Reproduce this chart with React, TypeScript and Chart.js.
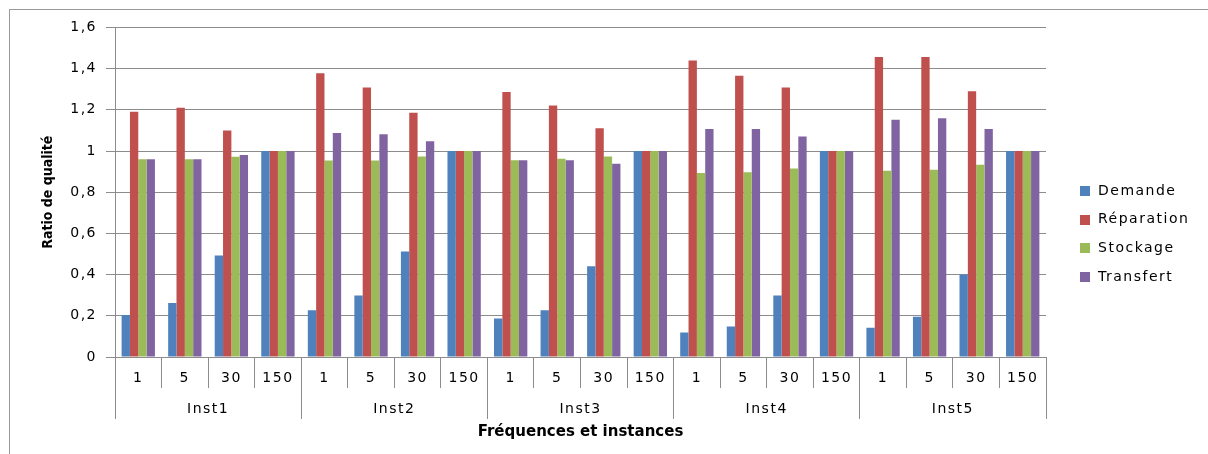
import React, { useEffect, useRef } from "react";
import { Chart, registerables } from "chart.js";

Chart.register(...registerables);

const categories = [
  "1", "5", "30", "150",
  "1", "5", "30", "150",
  "1", "5", "30", "150",
  "1", "5", "30", "150",
  "1", "5", "30", "150",
];
const groups = ["Inst1", "Inst2", "Inst3", "Inst4", "Inst5"];

const demande = [
  0.204, 0.262, 0.493, 1,
  0.227, 0.298, 0.512, 1,
  0.187, 0.227, 0.441, 1,
  0.119, 0.148, 0.298, 1,
  0.142, 0.195, 0.4, 1,
];
const reparation = [
  1.19, 1.21, 1.1, 1,
  1.377, 1.308, 1.186, 1,
  1.286, 1.221, 1.11, 1,
  1.439, 1.365, 1.308, 1,
  1.456, 1.456, 1.29, 1,
];
const stockage = [
  0.96, 0.96, 0.972, 1,
  0.954, 0.954, 0.973, 1,
  0.955, 0.962, 0.973, 1,
  0.893, 0.897, 0.915, 1,
  0.904, 0.909, 0.933, 1,
];
const transfert = [
  0.96, 0.96, 0.98, 1,
  1.087, 1.081, 1.047, 1,
  0.955, 0.955, 0.938, 1,
  1.107, 1.107, 1.07, 1,
  1.152, 1.159, 1.107, 1,
];

const seriesNames = ["Demande", "Réparation", "Stockage", "Transfert"];
const seriesColors = ["#4F81BD", "#C0504D", "#9BBB59", "#8064A2"];
const yTicks = [0, 0.2, 0.4, 0.6, 0.8, 1, 1.2, 1.4, 1.6];

const GRID = "#8c8c8c";
const TICK_FONT = { family: "'DejaVu Sans', sans-serif", size: 14 };
const SPACING = "1.5px";

const spacingPlugin = {
  id: "spacingPlugin",
  beforeDraw(chart: any) {
    chart.ctx.letterSpacing = "0px";
  },
  afterDatasetsDraw(chart: any) {
    chart.ctx.letterSpacing = SPACING;
  },
  afterDraw(chart: any) {
    const ctx = chart.ctx;
    const area = chart.chartArea;
    ctx.save();
    ctx.letterSpacing = SPACING;
    ctx.font = "14px 'DejaVu Sans', sans-serif";
    ctx.textBaseline = "middle";
    ctx.textAlign = "left";
    const n = chart.data.datasets.length;
    const cy = chart.height / 2 + 2;
    const step = 28.7;
    chart.data.datasets.forEach((ds: any, i: number) => {
      const y = cy + (i - (n - 1) / 2) * step;
      const bx = area.right + 34;
      ctx.fillStyle = ds.backgroundColor;
      ctx.fillRect(bx, Math.round(y - 5), 10, 10);
      ctx.fillStyle = "#000";
      ctx.fillText(ds.label, bx + 18, y);
    });
    ctx.restore();
    ctx.letterSpacing = "0px";
  },
};

export default function App() {
  const ref = useRef<HTMLCanvasElement | null>(null);

  useEffect(() => {
    if (!ref.current) return;
    const data = [demande, reparation, stockage, transfert];
    const chart = new Chart(ref.current, {
      type: "bar",
      data: {
        labels: categories,
        datasets: seriesNames.map((name, i) => ({
          label: name,
          data: data[i],
          backgroundColor: seriesColors[i],
          borderWidth: 0,
          categoryPercentage: 0.716,
          barPercentage: 1,
        })),
      },
      options: {
        animation: false,
        responsive: false,
        layout: { padding: { top: 16, left: 0, right: 162, bottom: 0 } },
        plugins: {
          legend: { display: false },
          tooltip: { enabled: false },
        },
        scales: {
          y: {
            min: 0,
            max: 1.6,
            afterBuildTicks: (scale: any) => {
              scale.ticks = yTicks.map((v) => ({ value: v }));
            },
            afterFit: (scale: any) => {
              scale.width = 105;
            },
            grid: {
              color: GRID,
              tickLength: 9,
              tickColor: GRID,
            },
            border: { color: GRID },
            ticks: {
              z: 1,
              padding: 9,
              color: "#000",
              font: TICK_FONT,
              callback: (v: any) => String(Math.round(Number(v) * 10) / 10).replace(".", ","),
            },
            title: {
              display: true,
              text: "Ratio de qualité",
              color: "#000",
              font: { family: "'DejaVu Sans Condensed', 'DejaVu Sans', sans-serif", size: 14, weight: "bold" },
              padding: { top: 30, bottom: 0 },
            },
          },
          x: {
            type: "category",
            position: "bottom",
            weight: 0,
            offset: true,
            afterFit: (scale: any) => {
              scale.height = 31;
            },
            grid: {
              offset: true,
              drawOnChartArea: false,
              color: GRID,
              tickColor: GRID,
              tickLength: 31,
            },
            border: { color: GRID },
            ticks: {
              z: 1,
              padding: -18.5,
              color: "#000",
              font: TICK_FONT,
              autoSkip: false,
              maxRotation: 0,
              minRotation: 0,
            },
          },
          x2: {
            type: "category",
            position: "bottom",
            weight: 1,
            labels: groups,
            offset: true,
            afterFit: (scale: any) => {
              scale.height = 66;
            },
            grid: {
              offset: true,
              drawOnChartArea: false,
              color: GRID,
              tickColor: GRID,
              tickLength: 31,
            },
            border: { display: false },
            ticks: {
              z: 1,
              padding: -18.5,
              color: "#000",
              font: TICK_FONT,
              autoSkip: false,
              maxRotation: 0,
              minRotation: 0,
            },
            title: {
              display: true,
              text: "Fréquences et instances",
              color: "#000",
              font: { family: "'DejaVu Sans', sans-serif", size: 15, weight: "bold" },
              padding: { top: 0, bottom: 13 },
            },
          },
        },
      } as any,
      plugins: [spacingPlugin],
    });
    return () => chart.destroy();
  }, []);

  return (
    <div
      style={{
        position: "fixed",
        left: 9,
        top: 9,
        width: 1199,
        height: 445,
        borderTop: "1px solid #9a9a9a",
        borderLeft: "1px solid #9a9a9a",
        background: "#fff",
      }}
    >
      <canvas ref={ref} width={1198} height={444} style={{ display: "block" }} />
    </div>
  );
}
